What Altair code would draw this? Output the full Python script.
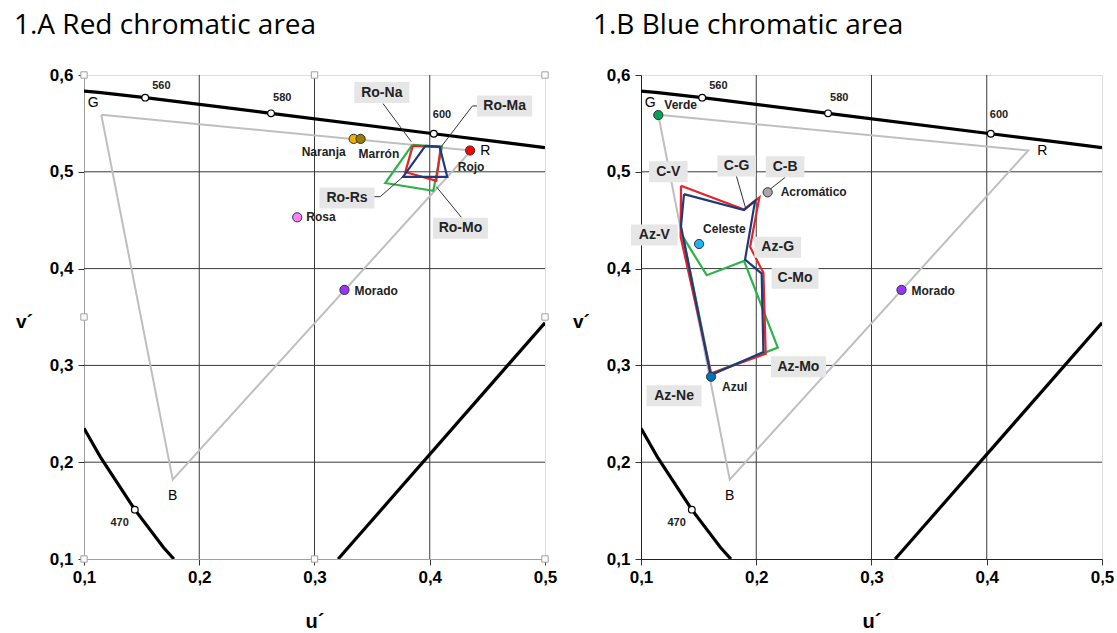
import altair as alt
import pandas as pd

# ---------------- data ----------------
locus_top_u = [0.100, 0.1127, 0.1531, 0.2623, 0.4035, 0.4692, 0.500]
locus_top_v = [0.5834, 0.5821, 0.5766, 0.5604, 0.5393, 0.5296, 0.5250]
locus_blue_u = [0.100, 0.1147, 0.1441, 0.1690, 0.1780]
locus_blue_v = [0.235, 0.2044, 0.1510, 0.1119, 0.100]
purple_u = [0.3205, 0.500]
purple_v = [0.100, 0.344]

tri_names = ["G", "R", "B", "G"]
tri_u = [0.115, 0.436, 0.177, 0.115]
tri_v = [0.559, 0.522, 0.182, 0.559]

wl_labels = ["560", "580", "600", "470"]
wl_u = [0.1531, 0.2623, 0.4035, 0.1441]
wl_v = [0.5766, 0.5604, 0.5393, 0.1510]

grid_u = [0.2, 0.3, 0.4]
grid_v = [0.2, 0.3, 0.4, 0.5]
handle_u = [0.1, 0.3, 0.5, 0.1, 0.5, 0.1, 0.3, 0.5]
handle_v = [0.6, 0.6, 0.6, 0.35, 0.35, 0.1, 0.1, 0.1]

# 1.A red area
left_pt_names = ["Naranja", "Marrón", "Rojo", "Rosa", "Morado"]
left_pt_u = [0.334, 0.340, 0.435, 0.285, 0.326]
left_pt_v = [0.534, 0.534, 0.522, 0.453, 0.378]

left_red_u = [0.3852, 0.4095, 0.4057, 0.3788, 0.3852]
left_red_v = [0.5268, 0.5258, 0.4907, 0.4997, 0.5268]
left_blue_u = [0.3962, 0.4086, 0.4152, 0.3768, 0.3962]
left_blue_v = [0.5268, 0.5258, 0.4948, 0.4948, 0.5268]
left_green_u = [0.3849, 0.4106, 0.4031, 0.3614, 0.3849]
left_green_v = [0.5278, 0.5258, 0.4804, 0.4884, 0.5278]

left_box_text = ["Ro-Na", "Ro-Ma", "Ro-Rs", "Ro-Mo"]
left_box_u = [0.3584, 0.465, 0.3282, 0.4266]
left_box_v = [0.5819, 0.568, 0.4729, 0.4416]

left_leader_id = ["Na", "Na", "Ma", "Ma", "Ma", "Rs", "Rs", "Rs", "Mo", "Mo"]
left_leader_u = [0.3594, 0.384, 0.441, 0.437, 0.410, 0.350, 0.357, 0.3768, 0.4274, 0.4057]
left_leader_v = [0.5705, 0.5311, 0.568, 0.568, 0.526, 0.4743, 0.4743, 0.4949, 0.4530, 0.4846]

# 1.B blue area
right_pt_names = ["Verde", "Celeste", "Azul", "Acromático", "Morado"]
right_pt_u = [0.115, 0.1504, 0.1608, 0.2099, 0.326]
right_pt_v = [0.5586, 0.4254, 0.2883, 0.4788, 0.378]

right_red_u = [0.1347, 0.1894, 0.2027, 0.1947, 0.2062, 0.2082, 0.1608, 0.1344, 0.1347]
right_red_v = [0.4855, 0.4611, 0.4735, 0.4224, 0.3956, 0.3120, 0.2915, 0.4328, 0.4855]
right_blue_u = [0.1373, 0.1894, 0.1990, 0.1903, 0.2047, 0.2062, 0.1604, 0.1347, 0.1373]
right_blue_v = [0.4769, 0.4604, 0.4700, 0.4094, 0.3949, 0.3139, 0.2898, 0.4438, 0.4769]
right_green_u = [0.1367, 0.1570, 0.1894, 0.2187, 0.1608, 0.1367]
right_green_v = [0.4322, 0.3932, 0.4080, 0.3184, 0.2915, 0.4322]

right_box_text = ["C-V", "C-G", "C-B", "Az-V", "Az-G", "C-Mo", "Az-Mo", "Az-Ne"]
right_box_u = [0.1237, 0.1830, 0.2250, 0.1116, 0.2186, 0.2337, 0.2366, 0.1287]
right_box_v = [0.5001, 0.5060, 0.5053, 0.4347, 0.4220, 0.3900, 0.2987, 0.2686]

right_leader_id = ["CG", "CG", "CB", "CB"]
right_leader_u = [0.1825, 0.1908, 0.2251, 0.2110]
right_leader_v = [0.4967, 0.4623, 0.4943, 0.4810]

# ---------------- styles ----------------
FONT = "Liberation Sans"
W, H = 461, 484
PX_U = 0.4 / W
PX_V = 0.5 / H

POINT_FILL = {"Naranja": "#F0B000", "Marrón": "#9E7A00", "Rojo": "#FF0000", "Rosa": "#FF80FF",
              "Morado": "#9933FF", "Verde": "#00A550", "Celeste": "#1EB4F0", "Azul": "#0070C0",
              "Acromático": "#A8A8A8"}
POLY_COLORS = {"red": "#E2242B", "blue": "#1F3A7A", "green": "#2DB34A"}
# (dx, dy, align) for point labels
PT_LABEL = {"Naranja": (-8, 13, "right"), "Marrón": (-2, 15, "left"), "Rojo": (1, 16, "center"),
            "Rosa": (9, 0, "left"), "Morado": (10, 1, "left"), "Verde": (6, -10, "left"),
            "Celeste": (4, -15, "left"), "Azul": (11, 10, "left"), "Acromático": (13, 0, "left")}
WL_LABEL = {"560": (7, -12, "left"), "580": (2, -15, "left"), "600": (-1, -19, "left"),
            "470": (-6, 13, "right")}
TRI_LABEL = {"G": (-8, -12, "center"), "R": (9, 0, "left"), "B": (0, 16, "center")}

XS = alt.Scale(domain=[0.1, 0.5], nice=False, zero=False)
YS = alt.Scale(domain=[0.1, 0.6], nice=False, zero=False)
LABEL_EXPR = "replace(format(datum.value, '.1f'), '.', ',')"


def make_axes(dom_color):
    xa = alt.Axis(values=[0.1, 0.2, 0.3, 0.4, 0.5], labelExpr=LABEL_EXPR, grid=False,
                  title="u´", titleX=W / 2, titleY=62, titleAlign="center", titleBaseline="middle",
                  titleFontSize=20, titleFontWeight="bold", titleFont=FONT, titleColor="black",
                  labelFont=FONT, labelFontSize=17, labelFontWeight="bold", labelColor="black",
                  labelPadding=4, tickSize=6, tickColor="#333333", domainColor=dom_color,
                  labelFlush=False, labelOverlap=False)
    ya = alt.Axis(values=[0.1, 0.2, 0.3, 0.4, 0.5, 0.6], labelExpr=LABEL_EXPR, grid=False,
                  title="v´", titleAngle=0, titleX=-60, titleY=246, titleAlign="center",
                  titleBaseline="middle", titleFontSize=19, titleFontWeight="bold", titleFont=FONT,
                  titleColor="black", labelFont=FONT, labelFontSize=17, labelFontWeight="bold",
                  labelColor="black", labelPadding=5, tickSize=6, tickColor="#333333",
                  domainColor=dom_color, labelFlush=False, labelOverlap=False)
    return xa, ya


def path_df(ids, us, vs):
    return pd.DataFrame({"id": ids, "u": us, "v": vs, "ord": list(range(len(us)))})


def panel(title, title_dx, pt_names, pt_u, pt_v, polys, box_text, box_u, box_v,
          ld_id, ld_u, ld_v, dom_color, handles):
    xa, ya = make_axes(dom_color)

    def enc(**kw):
        return dict(x=alt.X("u:Q", scale=XS, axis=xa), y=alt.Y("v:Q", scale=YS, axis=ya), **kw)

    layers = []
    # grid
    layers.append(alt.Chart(pd.DataFrame({"u": grid_u})).mark_rule(color="#3a3a3a", strokeWidth=1)
                  .encode(x=alt.X("u:Q", scale=XS, axis=xa)))
    layers.append(alt.Chart(pd.DataFrame({"v": grid_v})).mark_rule(color="#3a3a3a", strokeWidth=1)
                  .encode(y=alt.Y("v:Q", scale=YS, axis=ya)))
    # spectrum locus & purple line
    for us, vs in [(locus_top_u, locus_top_v), (locus_blue_u, locus_blue_v), (purple_u, purple_v)]:
        layers.append(alt.Chart(path_df(["a"] * len(us), us, vs))
                      .mark_line(color="black", strokeWidth=3.2, clip=True)
                      .encode(**enc(order="ord:O")))
    # gamut triangle
    layers.append(alt.Chart(path_df(["t"] * 4, tri_u, tri_v))
                  .mark_line(color="#BFBFBF", strokeWidth=2)
                  .encode(**enc(order="ord:O")))
    # chromatic area polygons
    for key, (us, vs) in polys:
        layers.append(alt.Chart(path_df([key] * len(us), us, vs))
                      .mark_line(color=POLY_COLORS[key], strokeWidth=2.2, strokeJoin="miter")
                      .encode(**enc(order="ord:O")))
    # leader lines
    layers.append(alt.Chart(path_df(ld_id, ld_u, ld_v))
                  .mark_line(color="#333333", strokeWidth=1)
                  .encode(**enc(detail="id:N", order="ord:O")))
    # label boxes
    bdf = pd.DataFrame({"t": box_text, "u": box_u, "v": box_v})
    bdf["hw"] = [(8.2 * len(t) + 14) / 2 * PX_U for t in box_text]
    bdf["u0"] = bdf["u"] - bdf["hw"]
    bdf["u1"] = bdf["u"] + bdf["hw"]
    bdf["v0"] = bdf["v"] - 10.5 * PX_V
    bdf["v1"] = bdf["v"] + 10.5 * PX_V
    layers.append(alt.Chart(bdf).mark_rect(color="#E6E6E6")
                  .encode(x=alt.X("u0:Q", scale=XS, axis=xa), x2="u1:Q",
                          y=alt.Y("v0:Q", scale=YS, axis=ya), y2="v1:Q"))
    layers.append(alt.Chart(bdf).mark_text(font=FONT, fontSize=14, fontWeight="bold", color="#222222")
                  .encode(**enc(text="t:N")))
    # wavelength markers
    wdf = pd.DataFrame({"t": wl_labels, "u": wl_u, "v": wl_v})
    layers.append(alt.Chart(wdf).mark_point(shape="circle", filled=True, fill="white", stroke="black",
                                             strokeWidth=1.2, size=45, opacity=1)
                  .encode(**enc()))
    for lab, (dx, dy, al) in WL_LABEL.items():
        layers.append(alt.Chart(wdf[wdf.t == lab]).mark_text(font=FONT, fontSize=11, fontWeight="bold",
                                                               dx=dx, dy=dy, align=al, baseline="middle",
                                                               color="#222222")
                      .encode(**enc(text="t:N")))
    # triangle vertex letters
    tdf = pd.DataFrame({"t": tri_names[:3], "u": tri_u[:3], "v": tri_v[:3]})
    for lab, (dx, dy, al) in TRI_LABEL.items():
        layers.append(alt.Chart(tdf[tdf.t == lab]).mark_text(font=FONT, fontSize=14, dx=dx, dy=dy,
                                                               align=al, baseline="middle", color="black")
                      .encode(**enc(text="t:N")))
    # colour points
    pdf = pd.DataFrame({"t": pt_names, "u": pt_u, "v": pt_v})
    layers.append(alt.Chart(pdf).mark_point(shape="circle", filled=True, stroke="#333333",
                                             strokeWidth=1, size=85, opacity=1)
                  .encode(**enc(fill=alt.Fill("t:N", scale=alt.Scale(domain=list(POINT_FILL.keys()),
                                                                       range=list(POINT_FILL.values())),
                                              legend=None))))
    for lab in pt_names:
        dx, dy, al = PT_LABEL[lab]
        layers.append(alt.Chart(pdf[pdf.t == lab]).mark_text(font=FONT, fontSize=12, fontWeight="bold",
                                                               dx=dx, dy=dy, align=al, baseline="middle",
                                                               color="#222222")
                      .encode(**enc(text="t:N")))
    if handles:
        hdf = pd.DataFrame({"u": handle_u, "v": handle_v})
        layers.append(alt.Chart(hdf).mark_point(shape="square", filled=True, fill="white",
                                                 stroke="#A0A0A0", strokeWidth=1, size=40, opacity=1)
                      .encode(**enc()))

    return alt.layer(*layers).properties(
        width=W, height=H,
        title=alt.TitleParams(title, anchor="start", frame="group", dx=title_dx, offset=26,
                              fontSize=28, font="Open Sans", fontWeight="normal", color="black"))


left = panel("1.A Red chromatic area", -70, left_pt_names, left_pt_u, left_pt_v,
             [("green", (left_green_u, left_green_v)), ("red", (left_red_u, left_red_v)),
              ("blue", (left_blue_u, left_blue_v))],
             left_box_text, left_box_u, left_box_v, left_leader_id, left_leader_u, left_leader_v,
             "#A0A0A0", True)
right = panel("1.B Blue chromatic area", -48, right_pt_names, right_pt_u, right_pt_v,
              [("green", (right_green_u, right_green_v)), ("red", (right_red_u, right_red_v)),
               ("blue", (right_blue_u, right_blue_v))],
              right_box_text, right_box_u, right_box_v, right_leader_id, right_leader_u, right_leader_v,
              "#222222", False)

chart = alt.hconcat(left, right, spacing=96, bounds="flush").properties(
    padding={"left": 13, "top": 11, "right": 2, "bottom": 0}
).configure_view(stroke="#A6A6A6", strokeWidth=1).configure(background="white")

chart.save("out.html", embed_options={"renderer": "svg", "actions": False})
